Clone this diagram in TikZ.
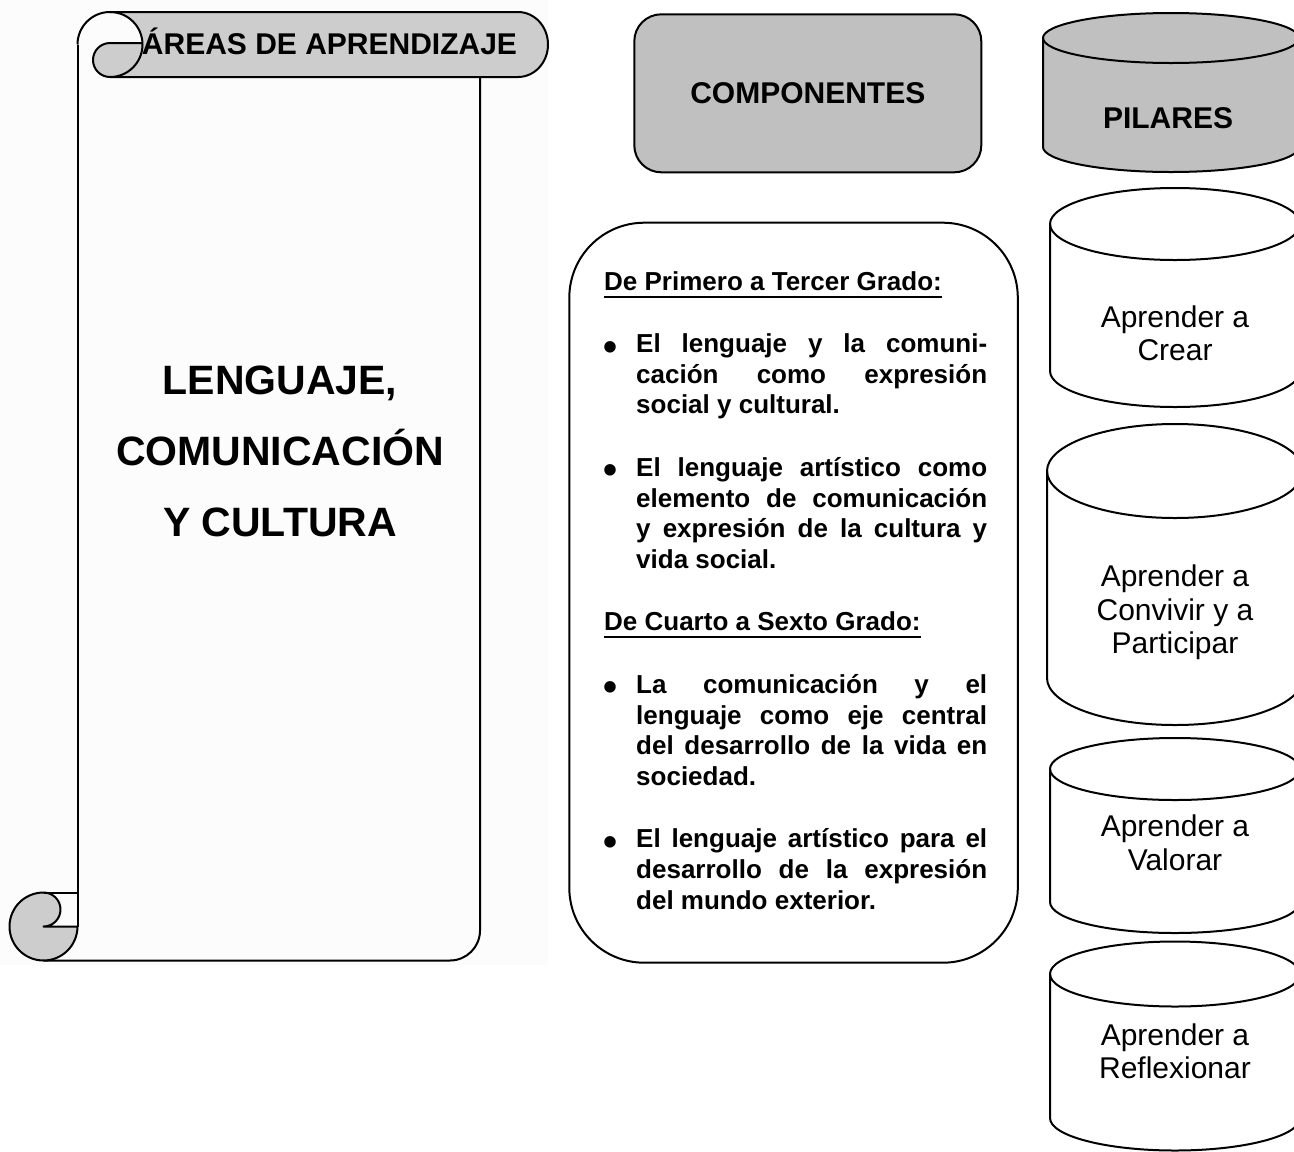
\documentclass[tikz,border=0pt]{standalone}
\usepackage{fontspec}
\setmainfont{Liberation Sans}
\definecolor{scrollgray}{HTML}{CDCDCD}
\definecolor{boxgray}{HTML}{C0C0C0}
\definecolor{faintbg}{HTML}{FCFCFC}
\newlength\cUlW
\newcommand\cUl[1]{\leavevmode\settowidth\cUlW{#1}\rlap{#1}\rule[-7.5pt]{\cUlW}{2pt}}
\newcommand\cBul{\makebox[32pt][l]{\hspace*{-1pt}\raisebox{-7.4pt}{\fontsize{40}{40}\selectfont\textbullet}}}
\newcommand\cJust[1]{\hspace*{32pt}\makebox[351pt][s]{#1}\par}
\newcommand\cBJust[1]{\cBul\makebox[351pt][s]{#1}\par}
\newcommand\cLast[1]{\hspace*{32pt}#1\par}
\newcommand\cGap{\vspace{32pt}}
\tikzset{
  outline/.style={draw=black, line width=2pt, line join=round},
  titletext/.style={font=\fontsize{30}{36}\selectfont\bfseries, inner sep=0pt, anchor=base},
  pillartext/.style={font=\fontsize{30}{33.6}\selectfont, inner sep=0pt, anchor=base},
}
% cx, rx, top centre y, bottom centre y, ry, fill
\newcommand\drawcyl[6]{%
  \draw[outline, fill=#6] ({#1-#2},#3) -- ({#1-#2},#4)
     arc[start angle=180, end angle=0, x radius=#2, y radius=#5]
     -- ({#1+#2},#3)
     arc[start angle=0, end angle=-180, x radius=#2, y radius=#5] -- cycle;
  \draw[outline] ({#1-#2},#3) arc[start angle=180, end angle=0, x radius=#2, y radius=#5];
}
\begin{document}
\begin{tikzpicture}[x=1pt,y=-1pt]
\useasboundingbox (0,0) rectangle (1294,1152);
\clip (0,0) rectangle (1294,1152);
\fill[faintbg] (0,0) rectangle (548,965);

% ---------- scroll ----------
\fill[scrollgray] (110,12) -- (518,12)
   arc[start angle=-90, end angle=90, x radius=30, y radius=32.5]
   -- (110,77) arc[start angle=90, end angle=270, radius=17]
   -- (142.47,43) arc[start angle=-2.64, end angle=-90, radius=32.5] -- cycle;
\draw[outline] (110,12) -- (518,12)
   arc[start angle=-90, end angle=90, x radius=30, y radius=32.5] -- (110,77);
\draw[outline] (77.5,44.5) arc[start angle=180, end angle=450, radius=32.5];
\draw[outline] (142.47,43) -- (110,43) arc[start angle=270, end angle=90, radius=17];
\draw[outline] (77.5,44.5) -- (77.5,926.5);
\draw[outline] (480,77) -- (480,930.5) arc[start angle=0, end angle=90, radius=30] -- (43.5,960.5);
\draw[outline, fill=scrollgray] (43.5,892.5) arc[start angle=270, end angle=0, radius=34]
   -- (43.5,926.5) arc[start angle=90, end angle=-90, radius=17] -- cycle;
\draw[outline] (43.5,892.5) -- (77.5,892.5);

\node[titletext] (areastitle) at (329.5,54.3) {ÁREAS DE APRENDIZAJE};
\node[font=\fontsize{41}{71.2}\selectfont\bfseries, inner sep=0pt, anchor=base] (areatext) at (280,394.3)
  {\begin{tabular}[t]{@{}c@{}}LENGUAJE,\\COMUNICACIÓN\\Y CULTURA\end{tabular}};

% ---------- componentes ----------
\node[outline, fill=boxgray, rounded corners=27pt, minimum width=347pt, minimum height=158pt,
      anchor=north west, font=\fontsize{30}{36}\selectfont\bfseries, inner sep=0pt]
      (comphead) at (633.3,13.3) {COMPONENTES};
\node[outline, rounded corners=75pt, minimum width=448.5pt, minimum height=740pt,
      anchor=north west, inner sep=0pt] (compbox) at (568.3,221.7) {};
\node[inner sep=0pt, anchor=base west] (comptext) at (604,290) {\parbox[t]{383pt}{\fontsize{26}{30.6}\selectfont\bfseries
\cUl{De Primero a Tercer Grado:}\par\cGap
\cBJust{El lenguaje y la comuni-}
\cJust{cación como expresión}
\cLast{social y cultural.}
\cGap
\cBJust{El lenguaje artístico como}
\cJust{elemento de comunicación}
\cJust{y expresión de la cultura y}
\cLast{vida social.}
\cGap
\cUl{De Cuarto a Sexto Grado:}\par\cGap
\cBJust{La comunicación y el}
\cJust{lenguaje como eje central}
\cJust{del desarrollo de la vida en}
\cLast{sociedad.}
\cGap
\cBJust{El lenguaje artístico para el}
\cJust{desarrollo de la expresión}
\cLast{del mundo exterior.}}};

% ---------- pilares ----------
\drawcyl{1171}{128}{38}{147}{25}{boxgray}
\node[titletext] (pilhead) at (1168,128) {PILARES};
\drawcyl{1175}{125}{224}{371}{36}{white}
\node[pillartext] (p1) at (1175,327) {\begin{tabular}[t]{@{}c@{}}Aprender a\\Crear\end{tabular}};
\drawcyl{1175}{128}{471}{678}{47}{white}
\node[pillartext] (p2) at (1175,586.7) {\begin{tabular}[t]{@{}c@{}}Aprender a\\Convivir y a\\Participar\end{tabular}};
\drawcyl{1175}{125}{769}{902}{31}{white}
\node[pillartext] (p3) at (1175,836.7) {\begin{tabular}[t]{@{}c@{}}Aprender a\\Valorar\end{tabular}};
\drawcyl{1175}{125}{974}{1118}{32.5}{white}
\node[pillartext] (p4) at (1175,1045) {\begin{tabular}[t]{@{}c@{}}Aprender a\\Reflexionar\end{tabular}};
\end{tikzpicture}
\end{document}
